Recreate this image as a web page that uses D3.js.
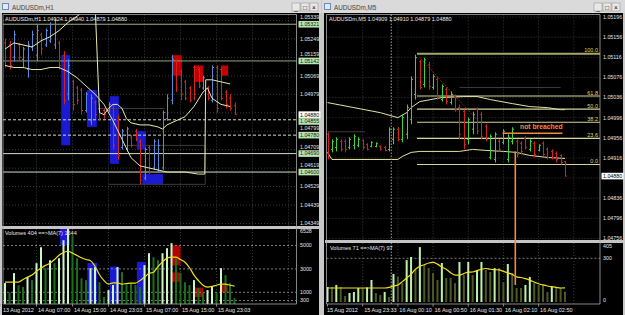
<!DOCTYPE html>
<html>
<head>
<meta charset="utf-8">
<script src="https://cdn.jsdelivr.net/npm/d3@7"></script>
<style>
body { margin: 0; background: #c8c8c8; }
text { font-family: "Liberation Sans", Arial, sans-serif; }
</style>
</head>
<body>
<script>
// ---------- H1 window (left) ----------
const h1High  = [1.0525,1.0524,1.0529,1.0523,1.0521,1.0524,1.0529,1.0532,1.0528,1.0530,1.0533,1.0535,1.0524,1.0519,1.0515,1.0505,1.0502,1.0501,1.0499,1.0498,1.0495,1.0493,1.0491,1.0494,1.0493,1.0488,1.0481,1.0482,1.0478,1.0481,1.0476,1.0472,1.0473,1.0476,1.0476,1.0490,1.0498,1.0517,1.0515,1.0510,1.0505,1.0502,1.0512,1.0511,1.0507,1.0502,1.0512,1.0512,1.0511,1.0500,1.0498,1.04940]
const h1Low   = [1.0511,1.0510,1.0514,1.0514,1.0511,1.0506,1.0519,1.0514,1.0517,1.0521,1.0523,1.0520,1.0510,1.0493,1.0495,1.0490,1.0493,1.0488,1.0489,1.0483,1.0486,1.0485,1.0486,1.0489,1.0471,1.0466,1.0471,1.0470,1.0472,1.0475,1.0454,1.0456,1.0459,1.0461,1.0460,1.0461,1.0485,1.0493,1.0499,1.0495,1.0495,1.0494,1.0495,1.0501,1.0500,1.0495,1.0494,1.0489,1.0495,1.0491,1.0490,1.04879]
const h1Open  = [1.0523,1.0522,1.0516,1.0522,1.0515,1.0510,1.0521,1.0517,1.0527,1.0522,1.0524,1.0522,1.0523,1.0517,1.0498,1.0504,1.0501,1.0500,1.0490,1.0485,1.0494,1.0491,1.0490,1.0490,1.0491,1.0485,1.0472,1.0471,1.0477,1.0480,1.0475,1.0457,1.0472,1.0462,1.0461,1.0462,1.0486,1.0495,1.0514,1.0509,1.0504,1.0501,1.0511,1.0510,1.0501,1.0501,1.0495,1.0511,1.0510,1.0499,1.0496,1.04924]
const h1Close = [1.0512,1.0512,1.0527,1.0516,1.0520,1.0522,1.0527,1.0529,1.0520,1.0529,1.0532,1.0534,1.0512,1.0495,1.0512,1.0493,1.0495,1.0490,1.0498,1.0496,1.0488,1.0486,1.0488,1.0493,1.0473,1.0468,1.0480,1.0481,1.0473,1.0476,1.0456,1.0471,1.0460,1.0475,1.0473,1.0489,1.0496,1.0515,1.0501,1.0498,1.0496,1.0495,1.0498,1.0502,1.0506,1.0496,1.0511,1.0491,1.0496,1.0493,1.0491,1.04880]
const h1Vol   = [1790,1000,2640,1600,1450,2300,2040,3490,4850,3060,3740,3490,3910,5450,6470,5870,3900,2200,2040,3060,3150,1870,600,1190,1620,3150,2720,1790,1790,1620,1450,3320,4340,4000,3740,4340,4770,5200,3900,2640,1870,1620,2040,1360,940,1190,1450,940,3060,2470,1790,500]
const h1VolMA = [1870,1870,1870,1870,2100,2300,2470,2800,3060,3300,3490,3800,4170,4400,4510,4350,4150,3950,3800,3700,3230,2500,2000,1700,1800,1800,1700,1750,1790,1790,2000,2300,2600,2720,3200,3600,3910,4000,4000,3800,3570,3100,2470,2000,1600,1450,1500,1600,1700,1700,1600,1530]
// indicator lines: [bar index, price]
const h1LineA = [[0,1.0520],[2,1.0523],[4,1.0522],[6,1.0521],[8,1.0524],[10,1.0526],[12,1.0529],[14,1.0533],[16,1.0536],[18,1.0539],[20,1.0543],[21,1.0489],[22,1.0488],[23,1.0491],[24,1.0493],[25,1.0493],[26,1.0491],[27,1.0486],[28,1.0484],[30,1.0483],[32,1.0483],[34,1.0482],[35,1.0481],[36,1.0483],[38,1.0485],[40,1.0487],[42,1.0492],[44,1.0499],[45,1.0501],[46,1.0496],[48,1.0493],[50,1.0492]]
const h1LineB = [[0,1.0512],[2,1.0511],[4,1.0511],[6,1.0510],[8,1.0510],[10,1.0511],[12,1.0511],[14,1.0509],[16,1.0506],[18,1.0502],[20,1.0498],[22,1.0493],[24,1.0485],[26,1.0476],[28,1.0467],[30,1.0463],[32,1.0462],[34,1.0461],[36,1.0460],[40,1.0460],[43,1.0459],[44.4,1.0459],[44.6,1.0505],[46,1.0505],[48,1.0504],[50,1.0503]]
const h1DarkLines = [[[21,1.0491],[35.5,1.0491]],[[26,1.0473],[44.5,1.0473],[44.5,1.0454]],[[23,1.0454],[44.5,1.0454]]]
// boxes: [from bar, to bar, price top, price bottom, side]
const h1Boxes = [[12.5,14.5,1.0517,1.0473,"up"],[18.2,20.4,1.0500,1.0482,"up"],[23.3,25.3,1.0497,1.0464,"up"],[29.3,31.3,1.0480,1.0471,"up"],[30.5,35.1,1.0459,1.0454,"up"],[37.1,39.3,1.0517,1.0507,"dn"],[42,44,1.0512,1.0504,"dn"],[48,49.6,1.0512,1.0507,"dn"]]
const h1VolBoxes = [[12.2,14.4,6528,5000,"up"],[18.3,20.5,3500,100,"up"],[23.3,25.3,3200,100,"up"],[29.3,31.3,3600,100,"up"],[37,39,5000,3300,"dn"],[37,39,2700,1900,"dn"],[42,44,1400,600,"dn"],[48,49.5,1600,1000,"dn"]]
const h1PriceTicks = [1.05339,1.05249,1.05159,1.05069,1.04979,1.04889,1.04799,1.04709,1.04619,1.04529,1.04439,1.04349]
const h1Levels = [1.05321,1.05142,1.04855,1.04780,1.04690,1.04600]
const h1VolTop = 6528
const h1VolLevels = [5000,3000,1000,300]
const h1TimeLabels = ["13 Aug 2012","14 Aug 07:00","14 Aug 15:00","14 Aug 23:03","15 Aug 07:00","15 Aug 15:00","15 Aug 23:03"]
const h1TimeIdx = [-1,7,15,23,31,39,47]
const h1VolNow = 404, h1MANow = 1644

// ---------- M5 window (right) ----------
const m5High  = [1.04967,1.04953,1.04957,1.04953,1.04953,1.04957,1.04963,1.04957,1.04953,1.04945,1.04949,1.04947,1.04941,1.04939,1.04977,1.04977,1.04977,1.05002,1.05022,1.05078,1.05121,1.05111,1.05115,1.05107,1.05082,1.05076,1.05062,1.05056,1.05048,1.05042,1.05022,1.05012,1.04996,1.05008,1.05016,1.05008,1.04983,1.04963,1.04967,1.04953,1.04973,1.04963,1.04977,1.04953,1.04949,1.04959,1.04953,1.04949,1.04943,1.04949,1.04937,1.04933,1.04929,1.04923,1.04910]
const m5Low   = [1.04913,1.04927,1.04929,1.04929,1.04927,1.04933,1.04933,1.04937,1.04933,1.04931,1.04937,1.04937,1.04931,1.04929,1.04929,1.04943,1.04949,1.04947,1.04953,1.04983,1.05032,1.05052,1.05056,1.05052,1.05052,1.05032,1.05028,1.05022,1.05022,1.05008,1.04953,1.04933,1.04943,1.04963,1.04963,1.04953,1.04949,1.04913,1.04907,1.04929,1.04943,1.04907,1.04943,1.04917,1.04923,1.04933,1.04929,1.04917,1.04929,1.04919,1.04913,1.04913,1.04907,1.04903,1.04879]
const m5Open  = [1.04963,1.04933,1.04937,1.04949,1.04949,1.04937,1.04941,1.04941,1.04951,1.04943,1.04939,1.04939,1.04939,1.04937,1.04933,1.04953,1.04973,1.04953,1.04963,1.04992,1.05042,1.05107,1.05062,1.05101,1.05056,1.05072,1.05032,1.05052,1.05026,1.05038,1.05016,1.05008,1.04953,1.04973,1.05012,1.05002,1.04979,1.04917,1.04913,1.04949,1.04947,1.04913,1.04949,1.04949,1.04945,1.04955,1.04933,1.04945,1.04931,1.04945,1.04933,1.04929,1.04925,1.04921,1.04909]
const m5Close = [1.04923,1.04949,1.04953,1.04933,1.04933,1.04953,1.04959,1.04953,1.04937,1.04933,1.04947,1.04945,1.04933,1.04931,1.04973,1.04973,1.04953,1.04996,1.05016,1.05072,1.05115,1.05056,1.05111,1.05058,1.05078,1.05038,1.05058,1.05028,1.05042,1.05012,1.04963,1.04943,1.04992,1.05002,1.04969,1.04959,1.04953,1.04959,1.04963,1.04933,1.04969,1.04957,1.04973,1.04923,1.04929,1.04937,1.04949,1.04923,1.04941,1.04923,1.04917,1.04917,1.04913,1.04907,1.04880]
const m5Vol   = [103,103,117,103,41,62,69,96,96,100,151,62,48,69,34,192,172,130,288,309,220,377,254,233,199,151,268,165,165,130,275,185,275,185,220,275,220,206,233,233,137,261,199,96,96,117,172,130,117,117,69,103,103,96,71]
const m5VolMA = [96,96,96,96,96,96,96,96,96,96,96,96,96,96,100,110,117,140,165,190,225,245,256,268,272,260,240,225,200,185,185,195,205,206,215,225,230,225,222,220,210,200,190,172,168,160,150,137,125,117,110,105,100,96,97]
const m5BandUp = [[0,1.05026],[6,1.05016],[12,1.05006],[16,1.04996],[18,1.05006],[19,1.05016],[21,1.05028],[26,1.05036],[31,1.05038],[34,1.05038],[37,1.05032],[42,1.05024],[46,1.05018],[50,1.05016],[53,1.05012],[54,1.05012]]
const m5BandDn = [[0,1.04927],[1,1.04913],[16,1.04913],[17,1.04919],[19,1.04927],[21,1.04929],[30,1.04929],[33,1.04933],[36,1.04931],[40,1.04929],[43,1.04927],[46,1.04921],[50,1.04917],[54,1.04915]]
const m5DarkLines = [[[0,1.04968],[8.5,1.04968]],[[30,1.05056],[53,1.05056]]]
const m5Trend = [[21,1.05115],[34,1.04992]]
const fibLevels = [0,23.6,38.2,50,61.8,100]
const fibLow = 1.04903, fibHigh = 1.05123, fibFrom = 20
const m5PriceTicks = [1.05196,1.05156,1.05116,1.05076,1.05036,1.04996,1.04956,1.04916,1.04876,1.04836,1.04796,1.04756]
const m5VolTop = 405
const m5VolLevels = [300]
const m5TimeLabels = ["15 Aug 2012","15 Aug 23:33","16 Aug 00:10","16 Aug 00:50","16 Aug 01:30","16 Aug 02:10","16 Aug 02:50"]
const m5TimeIdx = [0,8,16,24,32,40,48]
const m5Separator = 14.5
const note = {text: "not breached", price: 1.04965, from: 39.8, to: 53.4, at: 42.7, top: 1.04929, vol: 117}

const W = 625, H = 315
const svg = d3.select("body").append("svg").attr("width", W).attr("height", H)
svg.append("rect").attr("width", W).attr("height", H).attr("fill", "#c8c8c8")

const xL = d3.scaleLinear().domain([0, 51]).range([5, 234.5])
const yL = d3.scaleLinear().domain([1.04349, 1.05249]).range([223.5, 39])
const vL = d3.scaleLinear().domain([0, 5000]).range([304, 245.5])
const xR = d3.scaleLinear().domain([0, 54]).range([327.5, 565])
const yR = d3.scaleLinear().domain([1.04756, 1.05196]).range([238.5, 17])
const vR = d3.scaleLinear().domain([0, 300]).range([302, 258.3])

const fmt = d3.format(".5f")
const last = a => a[a.length - 1]
let clipId = 0
function clip(x0, y0, x1, y1) {
    const id = "c" + (clipId++)
    svg.append("clipPath").attr("id", id).append("rect")
        .attr("x", x0).attr("y", y0).attr("width", x1 - x0).attr("height", y1 - y0)
    return svg.append("g").attr("clip-path", "url(#" + id + ")")
}

function windowFrame(x0, x1, title, buttonsX) {
    svg.append("rect").attr("x", x0).attr("y", 0).attr("width", x1 - x0).attr("height", 13).attr("fill", "#dadada")
    svg.append("rect").attr("x", x0 + 2).attr("y", 3).attr("width", 7).attr("height", 7).attr("fill", "#6a8cb8")
    svg.append("rect").attr("x", x0 + 3).attr("y", 4).attr("width", 5).attr("height", 5).attr("fill", "#dfe8f4")
    svg.append("text").attr("x", x0 + 12).attr("y", 9.5).attr("font-size", 6.3).attr("fill", "#444").text(title)
    const sym = ["_", "\u25A1", "\u00D7"]
    sym.forEach((s, k) => {
        const bx = buttonsX + k * 9
        svg.append("rect").attr("x", bx).attr("y", 3).attr("width", 8).attr("height", 8)
            .attr("fill", "#e8e8e8").attr("stroke", "#888").attr("stroke-width", 0.5)
        svg.append("text").attr("x", bx + 4).attr("y", 9.5).attr("text-anchor", "middle")
            .attr("font-size", 6.5).attr("fill", "#000").text(s)
    })
    svg.append("rect").attr("x", x0 + 2).attr("y", 13).attr("width", x1 - x0 - 4).attr("height", H - 13).attr("fill", "#000")
}

function grid(g, xs, ys, x0, x1, y0, y1) {
    xs.forEach(x => g.append("line").attr("x1", x).attr("x2", x).attr("y1", y0).attr("y2", y1)
        .attr("stroke", "#4a4a4a").attr("stroke-width", 0.8).attr("stroke-dasharray", "1,2"))
    ys.forEach(y => g.append("line").attr("x1", x0).attr("x2", x1).attr("y1", y).attr("y2", y)
        .attr("stroke", "#4a4a4a").attr("stroke-width", 0.8).attr("stroke-dasharray", "1,2"))
}

function bars(g, x, y, hi, lo, op, cl, upC, dnC) {
    hi.forEach((h, i) => {
        const c = cl[i] >= op[i] ? upC : dnC
        const xi = Math.round(x(i)) + 0.5
        g.append("line").attr("x1", xi).attr("x2", xi).attr("y1", y(h)).attr("y2", y(lo[i])).attr("stroke", c)
        g.append("line").attr("x1", xi - 1.5).attr("x2", xi).attr("y1", y(op[i])).attr("y2", y(op[i])).attr("stroke", c)
        g.append("line").attr("x1", xi).attr("x2", xi + 1.5).attr("y1", y(cl[i])).attr("y2", y(cl[i])).attr("stroke", c)
    })
}

function volBars(g, x, v, vals, paleC, darkC, w) {
    vals.forEach((d, i) => {
        const c = (i === 0 || d > vals[i - 1]) ? paleC : darkC
        g.append("rect").attr("x", x(i) - w / 2).attr("y", v(d)).attr("width", w).attr("height", v(0) - v(d)).attr("fill", c)
    })
}

function path(g, pts, x, y, color, width, dash) {
    const p = g.append("path").attr("d", d3.line().x(d => x(d[0])).y(d => y(d[1]))(pts))
        .attr("fill", "none").attr("stroke", color).attr("stroke-width", width)
    if (dash) p.attr("stroke-dasharray", dash)
    return p
}

function axisLabel(x, y, t, bg, fg) {
    if (bg) svg.append("rect").attr("x", x - 1.5).attr("y", y - 3.3).attr("width", 22).attr("height", 6.6).attr("fill", bg)
    svg.append("text").attr("x", x).attr("y", y).attr("dy", "0.35em").attr("font-size", 5.3)
        .attr("fill", fg || "#e6e6e6").text(t)
}

// price axis: highlighted labels sit on top, plain tick labels that would sit under them
// are dropped (hidden in the original) or nudged clear
function priceAxis(x, y, ticks, levels, now, gap) {
    const fixed = [{p: now, y: y(now), bg: "#ffffff", fg: "#000"}]
    levels.forEach(p => {
        let yy = y(p)
        const d = yy - fixed[0].y
        if (Math.abs(d) < gap) yy = fixed[0].y + (d >= 0 ? gap : -gap)
        fixed.push({p: p, y: yy, bg: "#b9e4b2", fg: "#102010"})
    })
    ticks.forEach(p => {
        let yy = y(p)
        const near = fixed.filter(f => Math.abs(f.y - yy) < gap)
        if (near.some(f => Math.abs(f.y - yy) < 2.5)) return
        near.forEach(f => { yy = f.y + (yy >= f.y ? gap : -gap) })
        if (fixed.some(f => Math.abs(f.y - yy) < gap - 0.1)) return
        axisLabel(x, yy, fmt(p))
    })
    fixed.slice(1).forEach(f => axisLabel(x, f.y, fmt(f.p), f.bg, f.fg))
    axisLabel(x, fixed[0].y, fmt(now), fixed[0].bg, fixed[0].fg)
}

// ===== left window =====
windowFrame(0, 321, "AUDUSDm,H1", 292)
{
    const px0 = 3, px1 = 296.5, my0 = 14.5, my1 = 226, vy0 = 229, vy1 = 304
    const step = xL(8) - xL(0)
    const gx = d3.range(xL(7), px1, step)
    const gm = clip(px0, my0, px1, my1)
    grid(gm, gx, h1PriceTicks.map(yL), px0, px1, my0, my1)
    h1Boxes.forEach(b => gm.append("rect").attr("x", xL(b[0])).attr("width", xL(b[1]) - xL(b[0]))
        .attr("y", yL(b[2])).attr("height", yL(b[3]) - yL(b[2])).attr("fill", b[4] === "up" ? "#1a1ad2" : "#c40000"))
    h1DarkLines.forEach(l => path(gm, l, xL, yL, "#3c3c3c", 1))
    const lvlStroke = ["#9fb08c", "#8fa67c", "#d2dcc4", "#d2dcc4", "#cfdcc6", "#cfdcc6"]
    const lvlDash = [null, null, "3,2", "3,2", null, null]
    h1Levels.forEach((p, k) => {
        const l = gm.append("line").attr("x1", px0).attr("x2", px1).attr("y1", yL(p)).attr("y2", yL(p))
            .attr("stroke", lvlStroke[k]).attr("stroke-width", 1)
        if (lvlDash[k]) l.attr("stroke-dasharray", lvlDash[k])
    })
    bars(gm, xL, yL, h1High, h1Low, h1Open, h1Close, "#5b8ad6", "#d42222")
    path(gm, h1LineB, xL, yL, "#e6e6a8", 1)
    path(gm, h1LineA, xL, yL, "#ecebb0", 1)

    const gv = clip(px0, vy0, px1, vy1)
    grid(gv, gx, [], px0, px1, vy0, vy1)
    h1VolBoxes.forEach(b => gv.append("rect").attr("x", xL(b[0])).attr("width", xL(b[1]) - xL(b[0]))
        .attr("y", vL(b[2])).attr("height", vL(b[3]) - vL(b[2])).attr("fill", b[4] === "up" ? "#1a1ad2" : "#b40000"))
    h1VolLevels.forEach(v => gv.append("line").attr("x1", px0).attr("x2", px1).attr("y1", vL(v)).attr("y2", vL(v))
        .attr("stroke", "#9a9a9a").attr("stroke-width", 0.8).attr("stroke-dasharray", "2,2"))
    volBars(gv, xL, vL, h1Vol, "#cdf5c6", "#1b6e1b", 2)
    gv.append("path").attr("d", d3.line().curve(d3.curveMonotoneX).x((d, i) => xL(i)).y(d => vL(d))(h1VolMA))
        .attr("fill", "none").attr("stroke", "#f0e020").attr("stroke-width", 1.2)

    // frames
    svg.append("rect").attr("x", 2).attr("y", my1).attr("width", 317).attr("height", 3).attr("fill", "#c4c4c4")
    svg.append("line").attr("x1", px1).attr("x2", px1).attr("y1", my0).attr("y2", vy1).attr("stroke", "#a8a8a8").attr("stroke-width", 0.8)
    svg.append("line").attr("x1", px0).attr("x2", px0).attr("y1", my0).attr("y2", vy1).attr("stroke", "#a8a8a8").attr("stroke-width", 0.8)
    svg.append("line").attr("x1", px0).attr("x2", px1).attr("y1", my0).attr("y2", my0).attr("stroke", "#a8a8a8").attr("stroke-width", 0.8)
    svg.append("line").attr("x1", px0).attr("x2", px1).attr("y1", vy1).attr("y2", vy1).attr("stroke", "#a8a8a8").attr("stroke-width", 0.8)

    svg.append("text").attr("x", 5).attr("y", 20.5).attr("font-size", 5.5).attr("fill", "#e8e8e8")
        .text("AUDUSDm,H1  " + [h1Open, h1High, h1Low, h1Close].map(a => fmt(last(a))).join(" "))
    svg.append("text").attr("x", 5).attr("y", 235).attr("font-size", 5.5).attr("fill", "#e8e8e8")
        .text("Volumes " + h1VolNow + "  ==>MA(7) " + h1MANow)

    priceAxis(300, yL, h1PriceTicks, h1Levels, last(h1Close), 6.8)
    axisLabel(300, vL(h1VolTop) + 3.5, String(h1VolTop))
    h1VolLevels.forEach(v => axisLabel(300, vL(v), String(v)))

    h1TimeIdx.forEach((i, k) => {
        const x = xL(i)
        svg.append("line").attr("x1", x).attr("x2", x).attr("y1", vy1).attr("y2", vy1 + 2.5).attr("stroke", "#a8a8a8").attr("stroke-width", 0.8)
        svg.append("text").attr("x", Math.max(x + 1.5, 3)).attr("y", 312).attr("font-size", 5.5).attr("fill", "#e6e6e6").text(h1TimeLabels[k])
    })
}

// ===== right window =====
windowFrame(322, 625, "AUDUSDm,M5", 594)
{
    const px0 = 326.5, px1 = 600, my0 = 14.5, my1 = 240, vy0 = 243, vy1 = 304
    const step = xR(8) - xR(0)
    const gx = d3.range(xR(8), px1, step)
    const gm = clip(px0, my0, px1, my1)
    grid(gm, gx, m5PriceTicks.map(yR), px0, px1, my0, my1)
    m5DarkLines.forEach(l => path(gm, l, xR, yR, "#3c3c3c", 1))
    path(gm, m5BandUp, xR, yR, "#e2e2a2", 1)
    path(gm, m5BandDn, xR, yR, "#e2e2a2", 1)
    fibLevels.forEach(f => {
        const p = fibLow + (fibHigh - fibLow) * f / 100
        gm.append("line").attr("x1", xR(fibFrom) + 1.5).attr("x2", px1).attr("y1", yR(p)).attr("y2", yR(p))
            .attr("stroke", f === 100 ? "#a8a86a" : "#d4d49c").attr("stroke-width", f === 100 ? 1.8 : 1.1)
        gm.append("text").attr("x", 598).attr("y", yR(p) - 1.5).attr("text-anchor", "end")
            .attr("font-size", 5.5).attr("fill", "#d8d870").text(f.toFixed(1))
    })
    path(gm, m5Trend, xR, yR, "#d83030", 1, "1,1.5")
    bars(gm, xR, yR, m5High, m5Low, m5Open, m5Close, "#3ed23e", "#d42222")
    const sx = xR(m5Separator)
    svg.append("line").attr("x1", sx).attr("x2", sx).attr("y1", my0).attr("y2", vy1)
        .attr("stroke", "#a0a0a0").attr("stroke-width", 1).attr("stroke-dasharray", "1.5,1.5")

    const gv = clip(px0, vy0, px1, vy1)
    grid(gv, gx, [], px0, px1, vy0, vy1)
    m5VolLevels.forEach(v => gv.append("line").attr("x1", px0).attr("x2", px1).attr("y1", vR(v)).attr("y2", vR(v))
        .attr("stroke", "#9a9a9a").attr("stroke-width", 0.8).attr("stroke-dasharray", "2,2"))
    volBars(gv, xR, vR, m5Vol, "#bff0a8", "#4e5a24", 2)
    gv.append("path").attr("d", d3.line().curve(d3.curveMonotoneX).x((d, i) => xR(i)).y(d => vR(d))(m5VolMA))
        .attr("fill", "none").attr("stroke", "#f0e020").attr("stroke-width", 1.2)

    svg.append("rect").attr("x", 325).attr("y", my1).attr("width", 298).attr("height", 3).attr("fill", "#c4c4c4")
    svg.append("line").attr("x1", px1).attr("x2", px1).attr("y1", my0).attr("y2", vy1).attr("stroke", "#a8a8a8").attr("stroke-width", 0.8)
    svg.append("line").attr("x1", px0).attr("x2", px0).attr("y1", my0).attr("y2", vy1).attr("stroke", "#a8a8a8").attr("stroke-width", 0.8)
    svg.append("line").attr("x1", px0).attr("x2", px1).attr("y1", my0).attr("y2", my0).attr("stroke", "#a8a8a8").attr("stroke-width", 0.8)
    svg.append("line").attr("x1", px0).attr("x2", px1).attr("y1", vy1).attr("y2", vy1).attr("stroke", "#a8a8a8").attr("stroke-width", 0.8)

    svg.append("text").attr("x", 329).attr("y", 20.5).attr("font-size", 5.5).attr("fill", "#e8e8e8")
        .text("AUDUSDm,M5  " + [m5Open, m5High, m5Low, m5Close].map(a => fmt(last(a))).join(" "))
    svg.append("text").attr("x", 330).attr("y", 249.5).attr("font-size", 5.5).attr("fill", "#e8e8e8")
        .text("Volumes " + last(m5Vol) + "  ==>MA(7) " + last(m5VolMA))

    priceAxis(603, yR, m5PriceTicks, [], last(m5Close), 6.8)
    axisLabel(603, vR(m5VolTop) + 3, String(m5VolTop))
    m5VolLevels.forEach(v => axisLabel(603, vR(v), String(v)))
    axisLabel(603, vR(0) - 1.5, "0")

    m5TimeIdx.forEach((i, k) => {
        const x = xR(i)
        svg.append("line").attr("x1", x).attr("x2", x).attr("y1", vy1).attr("y2", vy1 + 2.5).attr("stroke", "#a8a8a8").attr("stroke-width", 0.8)
        svg.append("text").attr("x", x + (k === 0 ? -0.5 : 1.5)).attr("y", 312).attr("font-size", 5.5).attr("fill", "#e6e6e6").text(m5TimeLabels[k])
    })

    // annotation
    const nx = xR(note.at)
    svg.append("line").attr("x1", xR(note.from)).attr("x2", xR(note.to)).attr("y1", yR(note.price)).attr("y2", yR(note.price))
        .attr("stroke", "#f08a48").attr("stroke-width", 1.6)
    svg.append("line").attr("x1", nx).attr("x2", nx).attr("y1", yR(note.top)).attr("y2", vR(note.vol))
        .attr("stroke", "#f08a48").attr("stroke-width", 1.6)
    svg.append("text").attr("x", xR(note.to) - 21).attr("y", yR(note.price) - 4.5)
        .attr("text-anchor", "middle").attr("font-size", 6.8).attr("font-weight", "bold").attr("fill", "#f08a48").text(note.text)
}
</script>
</body>
</html>
